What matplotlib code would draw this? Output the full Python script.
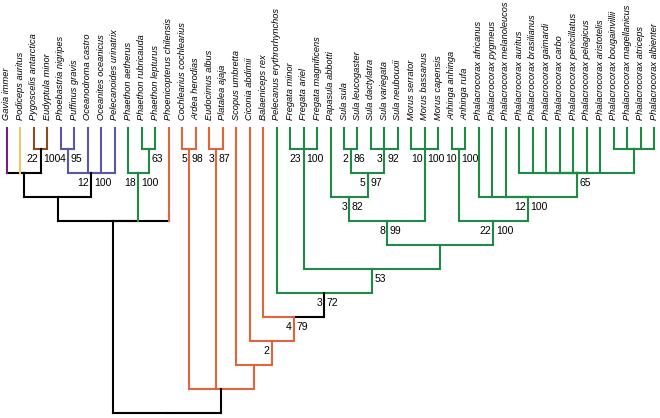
import matplotlib.pyplot as plt

# tree topology (tips in drawing order), internal nodes named after the ")"
newick = ("((((Gavia immer,Podiceps auritus,(Pygoscelis antarctica,Eudyptula minor)peng)gav,"
          "((Phoebastria nigripes,Puffinus gravis)proc,Oceanodroma castro,Oceanites oceanicus,"
          "Pelecanoides urinatrix)tubi)n58,(Phaethon aetherus,(Phaethon rubricauda,Phaethon lepturus)phin)phae,"
          "Phoenicopterus chilensis)n113,((Cochlearius cochlearius,Ardea herodias)ard,"
          "(Eudocimus albus,Platalea ajaja)thr,(Scopus umbretta,(Ciconia abdimii,(Balaeniceps rex,"
          "(Pelecanus erythrorhynchos,((Fregata minor,Fregata ariel,Fregata magnificens)freg,"
          "(((Papasula abbotti,((Sula sula,Sula leucogaster)sul1,(Sula dactylatra,Sula variegata,"
          "Sula neubouxii)sul2)sula)n349,(Morus serrator,Morus bassanus,Morus capensis)morus)sulid,"
          "((Anhinga anhinga,Anhinga rufa)anh,(Phalacrocorax africanus,Phalacrocorax pygmeus,"
          "Phalacrocorax melanoleucos,(Phalacrocorax auritus,Phalacrocorax brasilianus,"
          "Phalacrocorax gaimardi,Phalacrocorax carbo,Phalacrocorax penicillatus,Phalacrocorax pelagicus,"
          "Phalacrocorax aristotelis,(Phalacrocorax bougainvillii,Phalacrocorax magellanicus,"
          "Phalacrocorax atriceps,Phalacrocorax albienter)n635)n577)phal)n493)n440)n372)n325)n294)n272)n254)n222)root;")

# support values written left / right of each node stem
support = {
    'peng': ('22', '100'), 'proc': ('4', '95'), 'tubi': ('12', '100'),
    'phin': ('', '63'), 'phae': ('18', '100'),
    'ard': ('5', '98'), 'thr': ('3', '87'), 'n272': ('2', ''),
    'n294': ('4', '79'), 'n325': ('3', '72'), 'n372': ('', '53'),
    'freg': ('23', '100'), 'sul1': ('2', '86'), 'sul2': ('3', '92'),
    'sula': ('5', '97'), 'n349': ('3', '82'), 'sulid': ('8', '99'),
    'morus': ('10', '100'), 'anh': ('10', '100'), 'n493': ('22', '100'),
    'phal': ('12', '100'), 'n577': ('', '65'),
}

black = '#000000'
purple = '#75207c'
yellow = '#f3c768'
brown = '#8c4a20'
blue = '#5b57a4'
green = '#1d8b45'
orange = '#e0653b'

# colour of a clade (inherited by everything below it)
clade_color = {
    'root': black, 'Gavia immer': purple, 'Podiceps auritus': yellow,
    'peng': brown, 'tubi': blue, 'phae': green,
    'Phoenicopterus chilensis': orange, 'n222': orange, 'n325': green,
}
black_stems = {'peng', 'tubi', 'n222', 'n325'}


def parse(s):
    pos = 0

    def node():
        nonlocal pos
        kids = []
        if s[pos] == '(':
            pos += 1
            while True:
                kids.append(node())
                if s[pos] == ',':
                    pos += 1
                    continue
                pos += 1
                break
        start = pos
        while s[pos] not in ',();':
            pos += 1
        return {'name': s[start:pos], 'children': kids}
    return node()


tree = parse(newick)
tips = []


def layout(n, color):
    color = clade_color.get(n['name'], color)
    n['color'] = color
    if not n['children']:
        n['x'] = len(tips)
        n['level'] = 0
        tips.append(n['name'])
        return
    for c in n['children']:
        layout(c, color)
    xs = [c['x'] for c in n['children']]
    n['x'] = (min(xs) + max(xs)) / 2
    n['level'] = 1 + max(c['level'] for c in n['children'])


layout(tree, black)

fig = plt.figure(figsize=(6.6, 4.18), dpi=100)
ax = fig.add_axes([0, 0, 1, 1])
lw = 1.5
tip_top = 0.125


def draw(n):
    for c in n['children']:
        top = c['level'] if c['children'] else tip_top
        stem = black if c['name'] in black_stems else c['color']
        seg = black if c['name'] in black_stems else n['color']
        ax.plot([n['x'], c['x']], [n['level'], n['level']], color=seg, lw=lw,
                solid_capstyle='projecting', zorder=2)
        ax.plot([c['x'], c['x']], [top, n['level']], color=stem, lw=lw,
                solid_capstyle='projecting', zorder=3)
        draw(c)
    if n['name'] in support:
        left, right = support[n['name']]
        y = n['level'] + 0.22
        ax.text(n['x'] - 0.15, y, left, ha='right', va='top', fontsize=7.5,
                family='Liberation Sans')
        ax.text(n['x'] + 0.2, y, right, ha='left', va='top', fontsize=7.5,
                family='Liberation Sans')


draw(tree)

for i, name in enumerate(tips):
    ax.text(i, -0.2, name, rotation=90, ha='center', va='bottom', fontsize=6.7,
            style='italic', family='Liberation Sans')

ax.set_xlim(-0.519, 48.44)
ax.set_ylim(12.208, -5.208)
ax.axis('off')
fig.savefig('out.png', dpi=100)
